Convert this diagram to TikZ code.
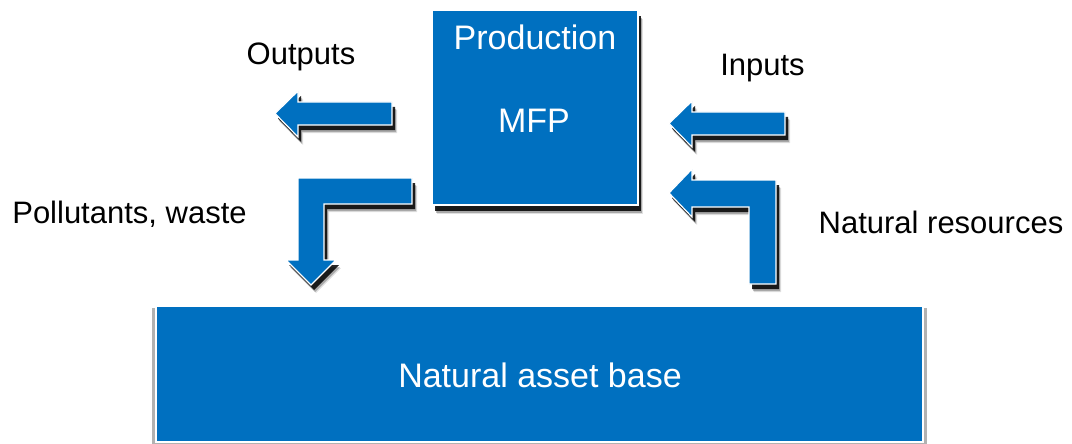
\documentclass[tikz,border=0pt]{standalone}
\usepackage{fontspec}
\setmainfont{Liberation Sans}
\definecolor{boxblue}{RGB}{0,112,192}
\tikzset{
  blockfill/.style={fill=boxblue, draw=white, line width=1.2pt, line join=miter},
  shadowA/.style={fill=black, opacity=0.85},
  shadowB/.style={fill=black, opacity=0.25},
  shadowC/.style={fill=black, opacity=0.12},
  glow/.style={fill=black, opacity=0.3},
  lbl/.style={font=\fontsize{31}{37}\selectfont, text=black, inner sep=0pt, anchor=base},
  boxtxt/.style={font=\fontsize{34}{40}\selectfont, text=white, inner sep=0pt, anchor=base},
  outpath/.style={insert path={(275,113.5) -- (298,91) -- (298,102) -- (392,102) -- (392,125) -- (298,125) -- (298,137) -- cycle}},
  inpath/.style={insert path={(669,123.5) -- (692,101) -- (692,112) -- (785,112) -- (785,135) -- (692,135) -- (692,147) -- cycle}},
  pollpath/.style={insert path={(412,178) -- (298,178) -- (298,260) -- (286,260) -- (311,285) -- (336,260) -- (324,260) -- (324,204) -- (412,204) -- cycle}},
  natpath/.style={insert path={(669,193) -- (692,169) -- (692,180) -- (776,180) -- (776,284) -- (749,284) -- (749,207) -- (692,207) -- (692,217) -- cycle}},
}
\begin{document}
\begin{tikzpicture}[x=1pt,y=-1pt]
\useasboundingbox (0,0) rectangle (1072,444);
% coordinates of boxes
\coordinate (pnw) at (432,10);
\coordinate (pse) at (638,205);
\coordinate (bnw) at (156,306);
\coordinate (bse) at (923,442);
% shadows
\fill[glow] (152,308) rectangle (927,446);
\fill[shadowC] ([shift={(5,9)}]pnw) rectangle ([shift={(5,9)}]pse);
\fill[shadowB] ([shift={(4,8)}]pnw) rectangle ([shift={(4,8)}]pse);
\fill[shadowA] ([shift={(3,6)}]pnw) rectangle ([shift={(3,6)}]pse);
\foreach \dx/\dy/\st in {5/8/shadowC, 4/7/shadowB, 3/5/shadowA}{
  \fill[\st, shift={(\dx,\dy)}, outpath];
  \fill[\st, shift={(\dx,\dy)}, inpath];
  \fill[\st, shift={(\dx,\dy)}, pollpath];
  \fill[\st, shift={(\dx,\dy)}, natpath];
}
% boxes
\path[blockfill] (pnw) rectangle (pse);
\path[blockfill] (bnw) rectangle (bse);
\node[boxtxt] (prod) at (535,50) {Production};
\node[boxtxt] (mfp) at (534,132) {MFP};
\node[boxtxt] (base) at (540,387) {Natural asset base};
% arrows
\path[blockfill, outpath];
\path[blockfill, inpath];
\path[blockfill, pollpath];
\path[blockfill, natpath];
% labels
\node[lbl] (outl) at (301,65) {Outputs};
\node[lbl] (inl) at (762.5,76) {Inputs};
\node[lbl] (polll) at (129.5,223) {Pollutants, waste};
\node[lbl] (natl) at (941,233) {Natural resources};
\end{tikzpicture}
\end{document}
